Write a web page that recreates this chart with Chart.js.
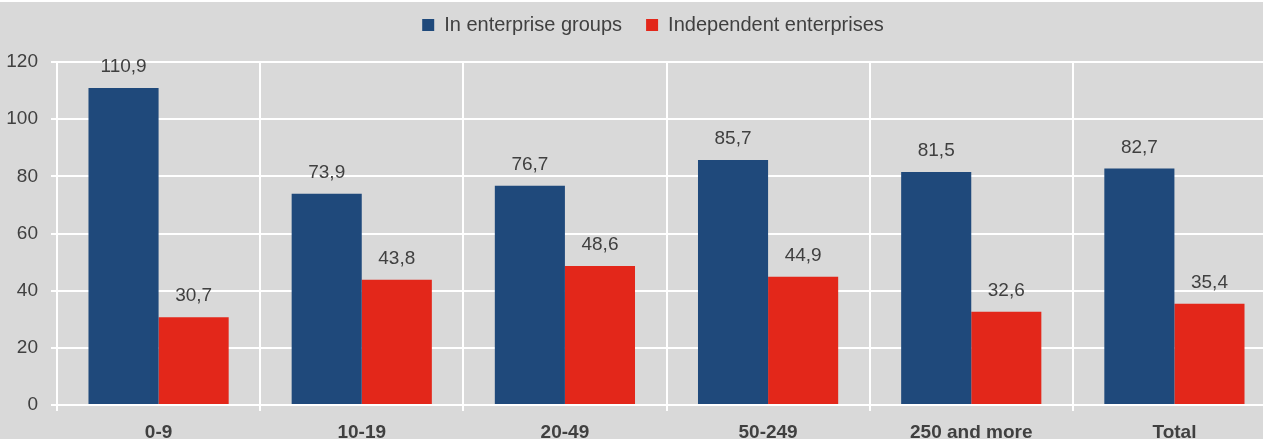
<!DOCTYPE html>
<html>
<head>
<meta charset="utf-8">
<script src="https://cdn.jsdelivr.net/npm/chart.js@4/dist/chart.umd.min.js"></script>
<style>
  html, body { margin: 0; padding: 0; background: #ffffff; overflow: hidden; }
  #wrap { position: absolute; left: 0; top: 2px; width: 1276px; height: 452px; background: #d9d9d9; }
</style>
</head>
<body>
<div id="wrap"><canvas id="chart"></canvas></div>
<script>
const categories = ["0-9", "10-19", "20-49", "50-249", "250 and more", "Total"];
const groupValues = [110.9, 73.9, 76.7, 85.7, 81.5, 82.7];
const independentValues = [30.7, 43.8, 48.6, 44.9, 32.6, 35.4];
const seriesNames = ["In enterprise groups", "Independent enterprises"];

const fontFamily = "'Liberation Sans Narrow', 'Arial Narrow', 'Liberation Sans', Arial, sans-serif";

// value labels above each bar
const valueLabels = {
  id: "valueLabels",
  afterDatasetsDraw(chart) {
    const ctx = chart.ctx;
    ctx.save();
    ctx.fillStyle = "#404040";
    ctx.font = "19px " + fontFamily;
    ctx.textAlign = "center";
    ctx.textBaseline = "alphabetic";
    chart.data.datasets.forEach((ds, i) => {
      chart.getDatasetMeta(i).data.forEach((bar, j) => {
        ctx.fillText(ds.data[j].toFixed(1).replace(".", ","), bar.x, bar.y - 16);
      });
    });
    ctx.restore();
  }
};

// fixed legend height and a small nudge so it sits like the original
const legendTweak = {
  id: "legendTweak",
  beforeInit(chart) {
    const legend = chart.legend;
    const fit = legend.fit;
    legend.fit = function () {
      fit.call(this);
      this.height = 60;
    };
    const draw = legend.draw;
    legend.draw = function () {
      const ctx = chart.ctx;
      ctx.save();
      ctx.translate(15, -11);
      draw.call(this);
      ctx.restore();
    };
  }
};

new Chart(document.getElementById("chart"), {
  type: "bar",
  data: {
    labels: categories,
    datasets: [
      { label: seriesNames[0], data: groupValues, backgroundColor: "#1f497b" },
      { label: seriesNames[1], data: independentValues, backgroundColor: "#e3271a" }
    ]
  },
  options: {
    responsive: true,
    maintainAspectRatio: false,
    animation: false,
    categoryPercentage: 0.69,
    barPercentage: 1,
    layout: { padding: 0 },
    plugins: {
      tooltip: { enabled: false },
      legend: {
        position: "top",
        labels: {
          boxWidth: 12,
          boxHeight: 12,
          padding: 24,
          color: "#404040",
          font: { family: fontFamily, size: 20 }
        }
      }
    },
    scales: {
      x: {
        offset: true,
        grid: { offset: true, color: "#ffffff", lineWidth: 2, tickLength: 6 },
        border: { color: "#ffffff", width: 2 },
        ticks: { color: "#404040", padding: 10, font: { family: fontFamily, size: 19, weight: "bold" } },
        afterFit(scale) { scale.height = 49; }
      },
      y: {
        min: 0,
        max: 120,
        ticks: { stepSize: 20, color: "#404040", padding: 13, font: { family: fontFamily, size: 19 } },
        grid: { color: "#ffffff", lineWidth: 2, tickLength: 6 },
        border: { color: "#ffffff", width: 2 },
        afterFit(scale) { scale.width = 57; }
      }
    }
  },
  plugins: [valueLabels, legendTweak]
});
</script>
</body>
</html>
